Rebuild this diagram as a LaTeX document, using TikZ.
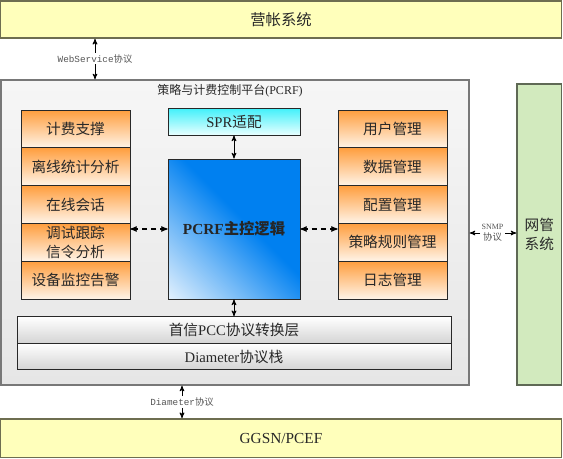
\documentclass[tikz,border=0pt]{standalone}
\usepackage{fontspec}
\setmainfont{Liberation Serif}
\newfontfamily\cjk{Noto Sans CJK SC}
\newfontfamily\lblmono{Liberation Mono}
\usetikzlibrary{arrows}
\usetikzlibrary{positioning}

\newcommand{\zh}[1]{{\cjk #1}}

\definecolor{billyellow}{RGB}{255,255,187}
\definecolor{sysedge}{RGB}{110,110,80}
\definecolor{platgray}{RGB}{230,230,230}
\definecolor{platedge}{RGB}{120,120,120}
\definecolor{nmsgreen}{RGB}{210,234,190}
\definecolor{nmsedge}{RGB}{95,105,85}
\definecolor{modorange}{RGB}{255,158,62}
\definecolor{modpale}{RGB}{255,244,232}
\definecolor{sprcyan}{RGB}{64,240,250}
\definecolor{sprpale}{RGB}{232,255,255}
\definecolor{mainblue}{RGB}{0,128,240}
\definecolor{layergray}{RGB}{212,212,212}
\definecolor{textgray}{RGB}{40,40,40}
\definecolor{lblgray}{RGB}{85,85,85}

\pgfdeclareverticalshading{mainshade}{100bp}{color(0bp)=(white); color(15bp)=(white!88!mainblue);
  color(35bp)=(mainblue!55!white); color(55bp)=(mainblue); color(100bp)=(mainblue)}

\tikzset{
  sysbox/.style={draw=sysedge,line width=1.2pt,fill=billyellow,minimum width=420.75pt,
    inner sep=0pt,text=textgray,font=\fontsize{11.5}{13}\selectfont},
  platbox/.style={draw=platedge,line width=0.9pt,top color=gray!7,bottom color=platgray},
  modbox/.style={draw=textgray,line width=0.6pt,top color=modorange,bottom color=modpale,
    minimum width=81.75pt,minimum height=28.35pt,inner sep=0pt,align=center,
    text=textgray,font=\fontsize{11}{14}\selectfont\cjk},
  sprbox/.style={draw=textgray,line width=0.6pt,top color=sprcyan,bottom color=sprpale,
    minimum width=99pt,minimum height=20.25pt,inner sep=0pt,
    text=textgray,font=\fontsize{11}{13}\selectfont},
  corebox/.style={draw=textgray,line width=0.6pt,shading=mainshade,shading angle=-45,
    minimum width=99pt,minimum height=105pt,inner sep=0pt,
    text=black!85,font=\fontsize{11.5}{13}\selectfont\bfseries},
  layerbox/.style={draw=textgray,line width=0.6pt,top color=white,bottom color=layergray,
    minimum width=325.5pt,minimum height=20pt,inner sep=0pt,
    text=textgray,font=\fontsize{11}{13}\selectfont},
  nmsbox/.style={draw=nmsedge,line width=0.9pt,fill=nmsgreen,align=center,
    minimum width=33.4pt,minimum height=225.75pt,inner sep=0pt,
    text=textgray,font=\fontsize{11}{14}\selectfont\cjk},
  protolbl/.style={inner sep=1pt,text=lblgray,font=\fontsize{7}{8}\selectfont\lblmono},
  link/.style={draw,line width=0.6pt,<->},
}

\begin{document}
\begin{tikzpicture}[x=0.75pt,y=-0.75pt,>=stealth']

  \useasboundingbox (0,0) rectangle (563,458);

  % outer systems
  \node [sysbox,minimum height=27.75pt] (bill) at (281,19.5) {\zh{营帐系统}};
  \node [sysbox,minimum height=28.9pt] (ggsn) at (281,438.25) {GGSN/PCEF};
  \node [nmsbox] (nms) at (539.25,234.5) {网管\\系统};

  % platform
  \node [platbox,minimum width=351pt,minimum height=228.75pt] (pcrf) at (235,232.5) {};
  \node [text=textgray,font=\fontsize{9}{10}\selectfont] (pcrftitle) at (230,91)
    {\zh{策略与计费控制平台}(PCRF)};

  \foreach \txt [count=\i] in {计费支撑,离线统计分析,在线会话,{调试跟踪\\信令分析},设备监控告警}
    \node [modbox] (lmod\i) at (75.5,{91.1+37.8*\i}) {\txt};

  \foreach \txt [count=\i] in {用户管理,数据管理,配置管理,策略规则管理,日志管理}
    \node [modbox] (rmod\i) at (392.5,{91.1+37.8*\i}) {\txt};

  \node [sprbox] (spr) at (234,121.5) {SPR\zh{适配}};
  \node [corebox] (core) at (234,229) {PCRF\zh{主控逻辑}};

  \node [layerbox] (pcc) at (234,330) {\zh{首信}PCC\zh{协议转换层}};
  \node [layerbox] (dia) at (234,356.5) {Diameter\zh{协议栈}};

  % protocol labels
  \node [protolbl] (wslbl) at (95,58.5) {WebService\zh{协议}};
  \node [protolbl] (dialbl) at (182,402) {Diameter\zh{协议}};
  \node [protolbl,align=center,font=\fontsize{6}{8}\selectfont] (snmplbl) at (492.5,233)
    {SNMP\\\fontsize{7}{8}\selectfont\zh{协议}};

  % links
  \path [link] (spr) -- (core);
  \path [link] (core.south) -- (core.south |- pcc.north);
  \path [link,dashed,dash pattern=on 4pt off 3pt,line width=0.8pt]
    (core.west) -- (core.west -| lmod4.east);
  \path [link,dashed,dash pattern=on 4pt off 3pt,line width=0.8pt]
    (core.east) -- (core.east -| rmod4.west);

  \path [draw,line width=0.6pt,->] (wslbl.north) -- (wslbl.north |- bill.south);
  \path [draw,line width=0.6pt,->] (wslbl.south) -- (wslbl.south |- pcrf.north);
  \path [draw,line width=0.6pt,->] (dialbl.north) -- (dialbl.north |- pcrf.south);
  \path [draw,line width=0.6pt,->] (dialbl.south) -- (dialbl.south |- ggsn.north);
  \path [draw,line width=0.6pt,->] (snmplbl.west) -- (snmplbl.west -| pcrf.east);
  \path [draw,line width=0.6pt,->] (snmplbl.east) -- (snmplbl.east -| nms.west);

\end{tikzpicture}
\end{document}
